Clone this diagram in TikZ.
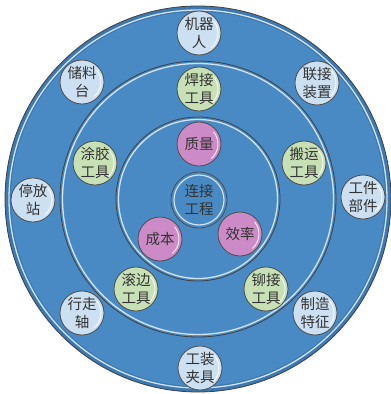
\documentclass[tikz,border=0pt]{standalone}
\usepackage{fontspec}
\newfontfamily\cjk{Noto Sans CJK SC}
\usetikzlibrary{positioning}

\definecolor{ringblue}{HTML}{4A8AC4}
\definecolor{edgeblue}{HTML}{3C78B2}
\definecolor{nodeblue}{HTML}{CCE0F1}
\definecolor{nodegreen}{HTML}{C7E0B5}
\definecolor{nodepink}{HTML}{CC8BC7}
\definecolor{txtgray}{HTML}{333333}

\begin{document}
\begin{tikzpicture}[
    x=1pt, y=-1pt,
    ring/.style={draw=black!75, line width=0.8pt, fill=ringblue},
    glint/.style={draw=white!75!ringblue, line width=1.3pt},
    bubble/.style={circle, draw=black!70, line width=0.8pt, minimum size=44pt, inner sep=0pt,
        align=center, text=txtgray, font=\cjk\fontsize{14.5}{17.5}\selectfont,
        path picture={\draw[white, line width=1pt, opacity=0.8]
            (path picture bounding box.center) ++(-50:19pt) arc(-50:40:19pt);}},
    outerbub/.style={bubble, fill=nodeblue},
    midbub/.style={bubble, fill=nodegreen},
    innerbub/.style={bubble, fill=nodepink}
]
\useasboundingbox (0,0) rectangle (391,394);

%% rings
\draw[ring, fill=edgeblue] (198,199) circle (193pt);
\draw[draw=none, fill=ringblue] (198,199) circle (187pt);
\draw[glint] (198,199) circle (189pt);
\draw[ring] (198,199) circle (138pt);
\draw[glint] (198,199) circle (135.5pt);
\draw[ring] (198,199) circle (82pt);
\draw[glint] (198,199) circle (79.5pt);

%% centre
\node[bubble, minimum size=56pt, fill=ringblue,
      path picture={\draw[white!75!ringblue, line width=1.2pt]
          (path picture bounding box.center) circle (25pt);}] (hub) at (199,200) {连接\\工程};

%% inner ring
\node[innerbub] (quality) at (199,144) {质量};
\node[innerbub] (effic)   at (240,234) {效率};
\node[innerbub] (cost)    at (160,239) {成本};

%% middle ring
\node[midbub] (weld)   at (199,89)  {焊接\\工具};
\node[midbub] (carry)  at (304,163) {搬运\\工具};
\node[midbub] (rivet)  at (266,289) {铆接\\工具};
\node[midbub] (hem)    at (136,289) {滚边\\工具};
\node[midbub] (glue)   at (95,163)  {涂胶\\工具};

%% outer ring
\node[outerbub] (robot)   at (199,33)  {机器\\人};
\node[outerbub] (link)    at (317,83)  {联接\\装置};
\node[outerbub] (part)    at (363,197) {工件\\部件};
\node[outerbub] (feature) at (315,313) {制造\\特征};
\node[outerbub] (fixture) at (200,368) {工装\\夹具};
\node[outerbub] (track)   at (82,313)  {行走\\轴};
\node[outerbub] (park)    at (33,200)  {停放\\站};
\node[outerbub] (store)   at (82,82)   {储料\\台};

\end{tikzpicture}
\end{document}
